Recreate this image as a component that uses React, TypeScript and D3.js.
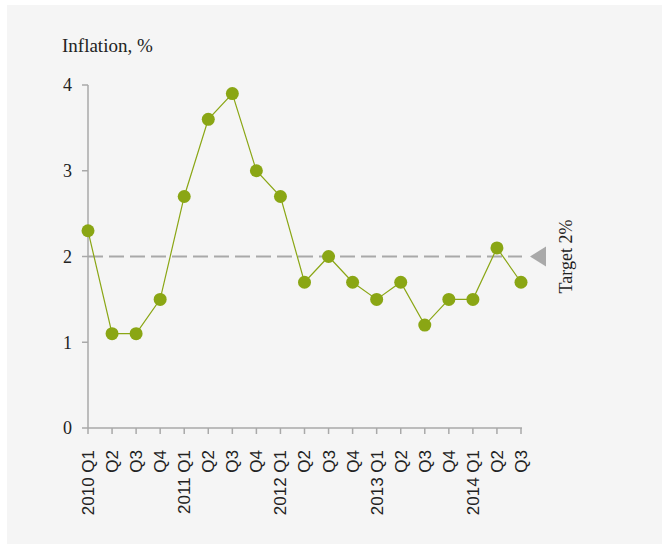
import React from "react";
import * as d3 from "d3";

const categories: string[] = [
  "2010 Q1", "Q2", "Q3", "Q4",
  "2011 Q1", "Q2", "Q3", "Q4",
  "2012 Q1", "Q2", "Q3", "Q4",
  "2013 Q1", "Q2", "Q3", "Q4",
  "2014 Q1", "Q2", "Q3",
];
const inflation: number[] = [
  2.3, 1.1, 1.1, 1.5,
  2.7, 3.6, 3.9, 3.0,
  2.7, 1.7, 2.0, 1.7,
  1.5, 1.7, 1.2, 1.5,
  1.5, 2.1, 1.7,
];
const yTicks: number[] = [0, 1, 2, 3, 4];
const target = 2;
const title = "Inflation, %";
const targetLabel = "Target 2%";

const W = 662;
const H = 544;
const serif = "'Liberation Serif', 'DejaVu Serif', serif";
const sans = "'Liberation Sans', Arial, sans-serif";
const green = "#8aa614";
const grey = "#a9a9a9";

export default function App() {
  const x = d3.scalePoint<string>().domain(categories.map((_, i) => String(i))).range([88, 521]);
  const y = d3.scaleLinear().domain([0, 4]).range([428, 85]);
  const line = d3
    .line<number>()
    .x((_, i) => x(String(i)) as number)
    .y((d) => y(d));
  const x0 = 88;
  const x1 = 522;
  const ty = y(target);

  return (
    <svg
      width={W}
      height={H}
      style={{ position: "absolute", left: 0, top: 0, display: "block" }}
    >
      <rect x={7} y={5} width={W - 7} height={H - 5} fill="#f5f5f5" />
      <text x={62} y={52} fontFamily={serif} fontSize={19} fill="#222">
        {title}
      </text>
      {/* y axis */}
      <line x1={x0} x2={x0} y1={y(4)} y2={y(0)} stroke={grey} strokeWidth={1.5} />
      {yTicks.map((t) => (
        <g key={t}>
          <line x1={x0 - 6} x2={x0} y1={y(t)} y2={y(t)} stroke={grey} strokeWidth={1.5} />
          <text
            x={72}
            y={y(t)}
            dy="0.35em"
            textAnchor="end"
            fontFamily={serif}
            fontSize={18}
            fill="#222"
          >
            {t}
          </text>
        </g>
      ))}
      {/* x axis */}
      <line x1={x0} x2={x1} y1={y(0)} y2={y(0)} stroke={grey} strokeWidth={1.5} />
      {categories.map((c, i) => {
        const px = x(String(i)) as number;
        return (
          <g key={i}>
            <line x1={px} x2={px} y1={y(0)} y2={y(0) + 6} stroke={grey} strokeWidth={1.5} />
            <text
              transform={`translate(${px},${y(0) + 22}) rotate(-90)`}
              dy="0.35em"
              textAnchor="end"
              fontFamily={sans}
              fontSize={17}
              fill="#222"
            >
              {c}
            </text>
          </g>
        );
      })}
      {/* target */}
      <line
        x1={x0}
        x2={x1}
        y1={ty}
        y2={ty}
        stroke={grey}
        strokeWidth={2}
        strokeDasharray="15,6"
      />
      <path
        d={`M530,${ty} L546,${ty - 10} L546,${ty + 10} Z`}
        fill={grey}
      />
      <text
        transform={`translate(566,${ty}) rotate(-90)`}
        dy="0.35em"
        textAnchor="middle"
        fontFamily={serif}
        fontSize={18}
        fill="#222"
      >
        {targetLabel}
      </text>
      {/* series */}
      <path d={line(inflation) || ""} fill="none" stroke={green} strokeWidth={1.2} />
      {inflation.map((v, i) => (
        <circle key={i} cx={x(String(i)) as number} cy={y(v)} r={6.5} fill={green} />
      ))}
    </svg>
  );
}
